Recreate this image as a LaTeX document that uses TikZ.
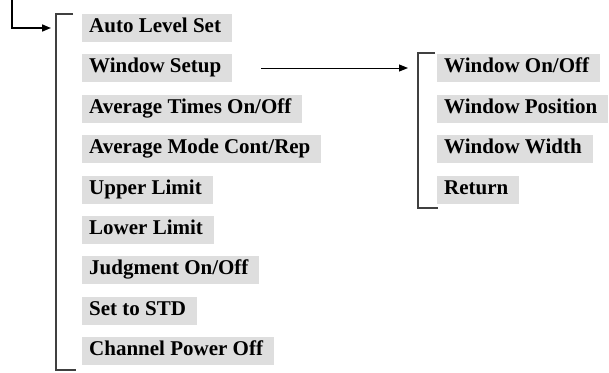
\documentclass[tikz,border=0pt]{standalone}
\usepackage{fontspec}
\setmainfont{Liberation Serif}
\usetikzlibrary{arrows.meta}

\tikzset{
  item/.style={anchor=west, fill=black!13, inner xsep=7pt, inner ysep=4.5pt,
    text height=14pt, text depth=4.5pt, font=\fontsize{21}{24}\selectfont\bfseries,
    execute at end node=\hspace{4pt}},
  bracket/.style={draw=black!75, line width=1.3pt},
}

\begin{document}
\begin{tikzpicture}[x=1pt, y=-1pt, >={Triangle[length=9pt,width=7pt]}]
    \useasboundingbox (0,0) rectangle (609,372);

    % Main menu
    \node[item] (auto)     at (82,28)  {Auto Level Set};
    \node[item] (winsetup) at (82,68)  {Window Setup};
    \node[item] (avgtimes) at (82,109) {Average Times On/Off};
    \node[item] (avgmode)  at (82,149) {Average Mode Cont/Rep};
    \node[item] (upper)    at (82,190) {Upper Limit};
    \node[item] (lower)    at (82,230) {Lower Limit};
    \node[item] (judge)    at (82,270) {Judgment On/Off};
    \node[item] (setstd)   at (82,311) {Set to STD};
    \node[item] (chpower)  at (82,351) {Channel Power Off};

    % Window submenu
    \node[item] (winonoff) at (437,68)  {Window On/Off};
    \node[item] (winpos)   at (437,109) {Window Position};
    \node[item] (winwidth) at (437,149) {Window Width};
    \node[item] (ret)      at (437,190) {Return};

    % Brackets
    \draw[bracket] (73,14) -- (56,14) -- (56,370) -- (76,370);
    \draw[bracket] (435,53) -- (418,53) -- (418,208) -- (438,208);

    % Entry arrow
    \coordinate (hookstart) at (12,0);
    \coordinate (mainin) at (51,28);
    \draw[->, line width=1.6pt] (hookstart) |- (mainin);

    % Submenu arrow
    \coordinate (subin) at (408,68);
    \draw[->, line width=1pt] ([xshift=29pt]winsetup.east) -- (subin);
\end{tikzpicture}
\end{document}
